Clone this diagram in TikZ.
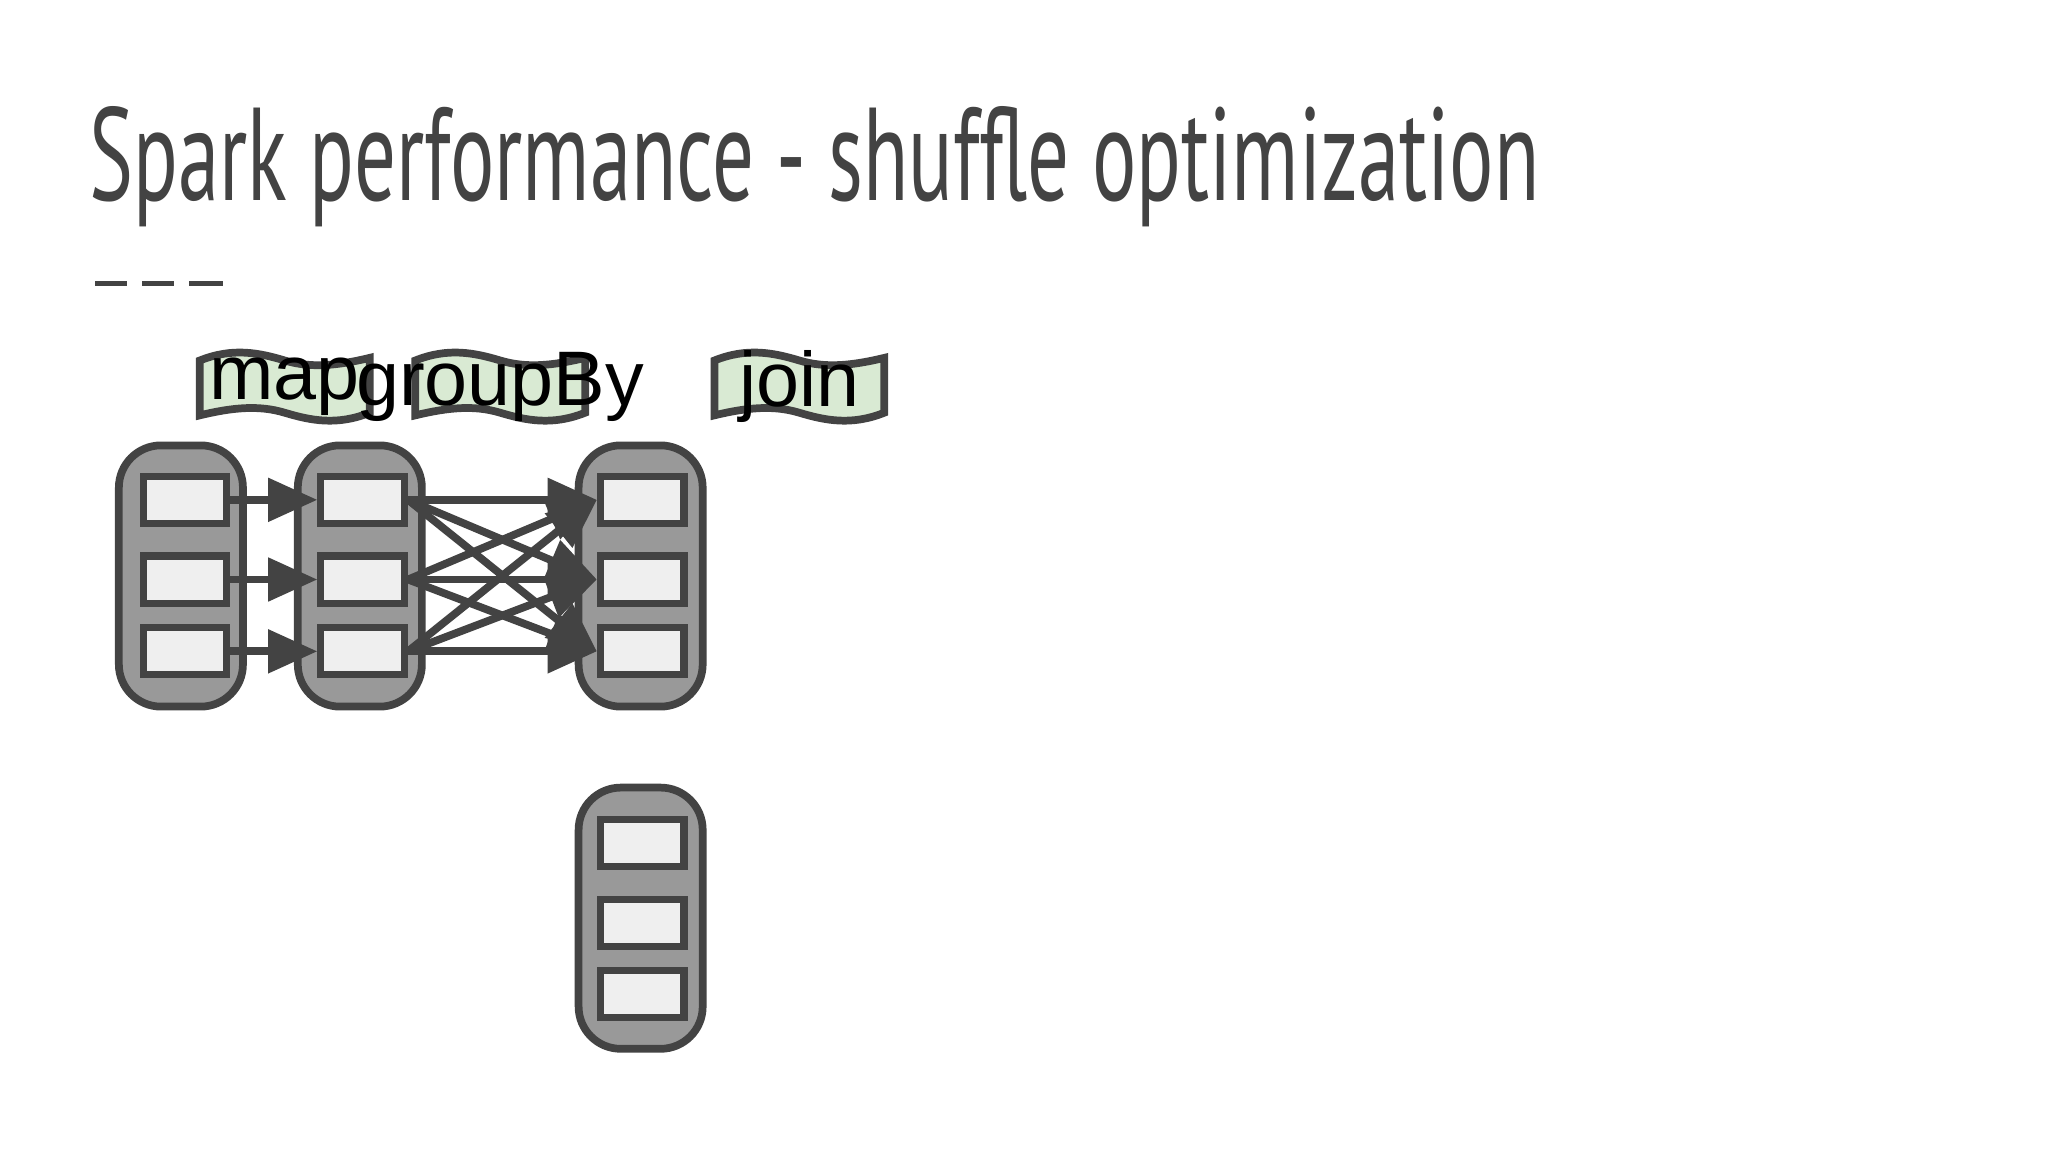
\documentclass[tikz,border=0pt]{standalone}
\usepackage{fontspec}
\setmainfont{Liberation Sans}
\newfontfamily\titlefont{PT Sans}
\usetikzlibrary{arrows.meta}
\definecolor{dk}{HTML}{434343}
\definecolor{grn}{HTML}{D9EAD3}
\definecolor{colg}{HTML}{999999}
\definecolor{cell}{HTML}{EFEFEF}
\tikzset{
  col/.style={draw=dk,line width=2.2pt,fill=colg,rounded corners=12},
  cellr/.style={draw=dk,line width=2pt,fill=cell},
  arr/.style={draw=dk,line width=2.2pt,-{Triangle[length=14,width=12]}},
  pics/banner/.style={code={
    \draw[draw=dk,line width=2.2pt,fill=grn]
      (0,4) .. controls (25,-6) and (45,-2) .. (65,4) .. controls (85,10) and (105,8) .. (130,2)
      -- (130,44) .. controls (105,54) and (85,50) .. (65,44) .. controls (45,38) and (25,40) .. (0,46) -- cycle;
    \node[font=\fontsize{22}{24}\selectfont] (-t) at (65,24) {#1};
  }}
}
\begin{document}
\begin{tikzpicture}[x=0.013061cm,y=-0.013061cm]
\useasboundingbox[fill=white] (0,0) rectangle (1568,882);
\node[anchor=west,text=dk,inner sep=0] (title) at (68,128) {\resizebox{1110\dimexpr0.013061cm\relax}{72\dimexpr0.013061cm\relax}{\titlefont Spark performance - shuffle optimization}};
\foreach \a/\b [count=\i] in {73/97,109/133,145/171}
  \draw[dk,line width=1.5pt] (\a,217) coordinate (d\i a) -- (\b,217) coordinate (d\i b);
\pic (bm) at (153,272) {banner=map};
\pic (bg) at (318,272) {banner=groupBy};
\pic (bj) at (547,272) {banner=join};
\foreach \n/\x/\y in {c1/91/341,c2/228/341,c3/443/341,c4/443/603}
  \draw[col] (\x,\y) rectangle ++(95,200) coordinate (\n);
\foreach \n/\x in {a/107,b/243,c/457}
  \foreach \y [count=\i] in {362,423,478}
    \node[cellr,minimum width=64*0.013061cm,minimum height=36*0.013061cm,inner sep=0,anchor=north west] (\n\i) at (\x,\y) {};
\foreach \y [count=\i] in {625,686,740}
  \node[cellr,minimum width=64*0.013061cm,minimum height=36*0.013061cm,inner sep=0,anchor=north west] (d\i) at (457,\y) {};
\foreach \i in {1,2,3} \draw[arr] (a\i.east) -- (b\i.west);
\foreach \i in {1,2,3} \foreach \j in {1,2,3} \draw[arr] (b\i.east) -- (c\j.west);
\end{tikzpicture}
\end{document}
